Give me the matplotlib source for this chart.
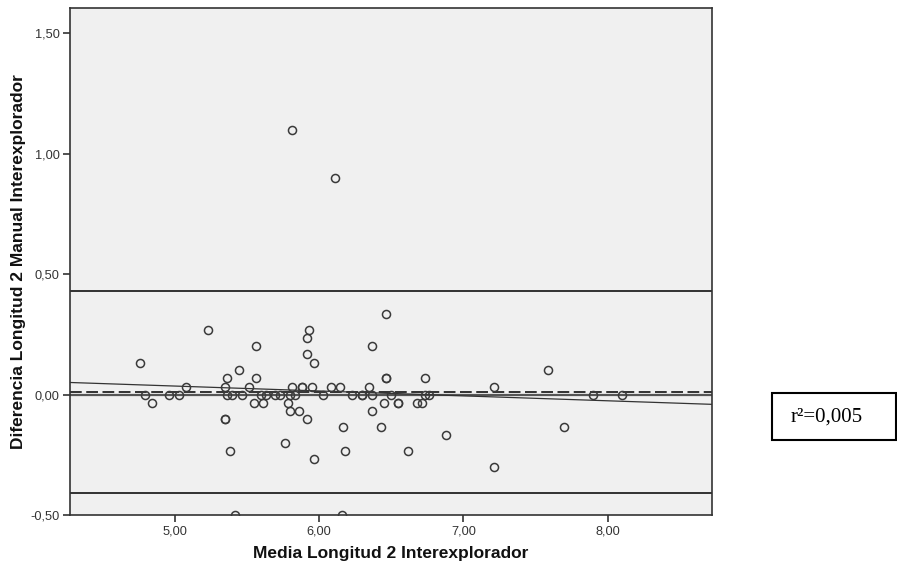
import matplotlib
matplotlib.use("Agg")
import matplotlib.pyplot as plt
from matplotlib.patches import Rectangle

# Bland-Altman data: mean of the two observers vs. their difference
media = [
    4.762, 4.796, 4.845, 4.963, 5.030, 5.080, 5.229, 5.349, 5.365, 5.349,
    5.349, 5.360, 5.399, 5.381, 5.448, 5.466, 5.515, 5.563, 5.563, 5.547,
    5.614, 5.596, 5.631, 5.695, 5.730, 5.764, 5.783, 5.799, 5.813, 5.799,
    5.834, 5.863, 5.882, 5.882, 5.915, 5.915, 5.915, 5.931, 5.949, 5.965,
    5.965, 6.031, 6.081, 6.148, 6.164, 6.180, 6.231, 6.296, 6.296, 6.349,
    6.365, 6.365, 6.365, 6.432, 6.450, 6.466, 6.466, 6.466, 6.499, 6.550,
    6.550, 6.615, 6.681, 6.716, 6.733, 6.733, 6.764, 6.880, 7.215, 7.215,
    7.585, 7.700, 7.901, 8.100, 5.815, 6.113, 5.421, 6.157,
]
diferencia = [
    0.133, 0.000, -0.033, 0.000, 0.000, 0.033, 0.267, 0.033, 0.067, -0.100,
    -0.100, 0.000, 0.000, -0.233, 0.100, 0.000, 0.033, 0.200, 0.067, -0.033,
    -0.033, 0.000, 0.000, 0.000, 0.000, -0.200, -0.033, -0.067, 0.033, 0.000,
    0.000, -0.067, 0.033, 0.033, -0.100, 0.167, 0.233, 0.267, 0.033, 0.133,
    -0.267, 0.000, 0.033, 0.033, -0.133, -0.233, 0.000, 0.000, 0.000, 0.033,
    0.200, 0.000, -0.067, -0.133, -0.033, 0.333, 0.067, 0.067, 0.000, -0.033,
    -0.033, -0.233, -0.033, -0.033, 0.067, 0.000, 0.000, -0.167, 0.033, -0.300,
    0.100, -0.133, 0.000, 0.000, 1.100, 0.900, -0.500, -0.500,
]

media_dif = 0.01          # mean difference (dashed)
limite_sup = 0.43         # upper limit of agreement
limite_inf = -0.41        # lower limit of agreement
reg_pendiente = -0.0204   # fitted regression of difference on mean
reg_intercepto = 0.1374
r2_texto = "r\u00b2=0,005"

x_ticks = [5.0, 6.0, 7.0, 8.0]
y_ticks = [-0.5, 0.0, 0.5, 1.0, 1.5]
x_lim = (4.275, 8.725)
y_lim = (-0.5, 1.605)

plt.rcParams["font.family"] = ["Liberation Sans", "DejaVu Sans"]

fig = plt.figure(figsize=(8.97, 5.69), dpi=100)
ax = fig.add_axes([70 / 897, 1 - 515 / 569, (712.3 - 70) / 897, (515 - 8) / 569])
ax.set_facecolor("#f0f0f0")

ax.set_xlim(*x_lim)
ax.set_ylim(*y_lim)

# reference lines
ax.axhline(0.0, color="#555555", lw=1.6, zorder=2)
ax.axhline(media_dif, color="#222222", lw=1.3, ls=(0, (6.5, 2.5)), zorder=2)
ax.axhline(limite_sup, color="#111111", lw=1.2, zorder=2)
ax.axhline(limite_inf, color="#111111", lw=1.2, zorder=2)
ax.plot(list(x_lim),
        [reg_intercepto + reg_pendiente * x for x in x_lim],
        color="#333333", lw=0.9, zorder=2)

# scatter points, clipped at the axes boundary
ax.plot(media, diferencia, ls="none", marker="o", markersize=5.8,
        markerfacecolor="none", markeredgecolor="#3a3a3a",
        markeredgewidth=1.1, zorder=3, clip_on=True)

ax.set_xticks(x_ticks)
ax.set_yticks(y_ticks)
ax.set_xticklabels([f"{v:.2f}".replace(".", ",") for v in x_ticks])
ax.set_yticklabels([f"{v:.2f}".replace(".", ",") for v in y_ticks])
ax.tick_params(direction="out", length=5, width=1.2, color="#333333",
               labelsize=9.2, labelcolor="#333333", pad=2.5)

for side in ("left", "bottom", "top", "right"):
    ax.spines[side].set_color("#333333")
    ax.spines[side].set_linewidth(1.2)

ax.set_xlabel("Media Longitud 2 Interexplorador", fontsize=12.5,
              fontweight="bold", labelpad=6, color="#111111")
ax.set_ylabel("Diferencia Longitud 2 Manual Interexplorador", fontsize=12.5,
              fontweight="bold", labelpad=3, color="#111111")

# r-squared box to the right of the plot
fig.patches.append(Rectangle((772 / 897, 1 - 440 / 569), (896 - 772) / 897,
                             (440 - 393) / 569, transform=fig.transFigure,
                             facecolor="white", edgecolor="black", lw=1.5))
fig.text(791 / 897, 1 - 417 / 569, r2_texto, family="Liberation Serif",
         fontsize=15, va="center", ha="left")

fig.savefig("out.png", dpi=100)
